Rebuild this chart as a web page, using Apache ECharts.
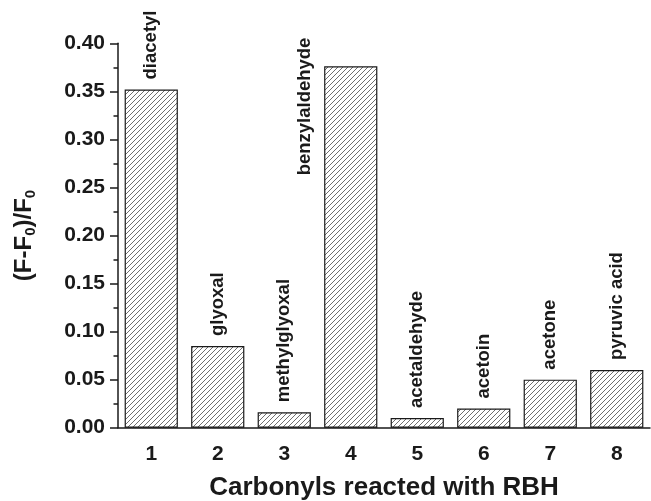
<!DOCTYPE html>
<html>
<head>
    <meta charset="utf-8">
    <title>Carbonyls reacted with RBH</title>
    <script src="https://cdn.jsdelivr.net/npm/echarts@6/dist/echarts.min.js"></script>
    <style>
        html, body { margin: 0; padding: 0; background: #fff; }
        #chart1 { width: 651px; height: 501px; }
    </style>
</head>
<body>
<div id="chart1"></div>
<script type="text/javascript">
    // data
    var categories = ['1', '2', '3', '4', '5', '6', '7', '8'];
    var compounds = ['diacetyl', 'glyoxal', 'methylglyoxal', 'benzylaldehyde',
        'acetaldehyde', 'acetoin', 'acetone', 'pyruvic acid'];
    var ratio = [0.352, 0.085, 0.016, 0.376, 0.010, 0.020, 0.050, 0.060];
    var yTicks = [0, 0.05, 0.10, 0.15, 0.20, 0.25, 0.30, 0.35, 0.40];

    var FONT = '"Liberation Sans", Arial, Helvetica, sans-serif';
    var INK = '#1a1a1a';

    // hatch fill ///
    function hatch() {
        var s = 5;
        var c = document.createElement('canvas');
        c.width = s; c.height = s;
        var g = c.getContext('2d');
        g.fillStyle = '#fff';
        g.fillRect(0, 0, s, s);
        g.strokeStyle = '#5e5e5e';
        g.lineWidth = 0.9;
        g.beginPath();
        g.moveTo(-1, s + 1); g.lineTo(s + 1, -1);
        g.moveTo(-1, 1); g.lineTo(1, -1);
        g.moveTo(s - 1, s + 1); g.lineTo(s + 1, s - 1);
        g.stroke();
        return c;
    }
    var pattern = { image: hatch(), repeat: 'repeat' };

    var barData = ratio.map(function (v, i) {
        var item = { value: v, label: { formatter: compounds[i] } };
        // benzylaldehyde sits beside its bar, not over it
        if (compounds[i] === 'benzylaldehyde') {
            item.label.position = [-19, 109];
        }
        return item;
    });

    var chart = echarts.init(document.getElementById('chart1'));
    chart.setOption({
        animation: false,
        grid: { left: 118, right: 1, top: 43.3, bottom: 73.3, outerBoundsMode: 'none' },
        xAxis: [{
            type: 'category',
            data: categories,
            name: 'Carbonyls reacted with RBH',
            nameLocation: 'middle',
            nameGap: 47,
            nameTextStyle: { fontFamily: FONT, fontWeight: 'bold', fontSize: 26, color: INK },
            axisLine: { lineStyle: { color: INK, width: 1.5 } },
            axisTick: { alignWithLabel: true, length: 7, lineStyle: { color: INK, width: 1.5 } },
            axisLabel: { margin: 16, fontFamily: FONT, fontWeight: 'bold', fontSize: 21, color: INK },
            splitLine: { show: false }
        }, {
            type: 'category',
            data: categories,
            position: 'bottom',
            axisLine: { show: false },
            axisTick: { length: 4, lineStyle: { color: INK, width: 1.5 } },
            axisLabel: { show: false },
            splitLine: { show: false }
        }],
        yAxis: {
            type: 'value',
            min: yTicks[0],
            max: yTicks[yTicks.length - 1],
            interval: 0.05,
            name: '{a|(F-F}{s|0}{a|)/F}{s|0}',
            nameLocation: 'middle',
            nameRotate: 90,
            nameGap: 80,
            nameTextStyle: {
                rich: {
                    a: { fontFamily: FONT, fontWeight: 'bold', fontSize: 24, color: INK },
                    s: { fontFamily: FONT, fontWeight: 'bold', fontSize: 15, color: INK, padding: [12, 0, 0, 0] }
                }
            },
            axisLine: { show: true, lineStyle: { color: INK, width: 1.5 } },
            axisTick: { show: true, length: 8, lineStyle: { color: INK, width: 1.5 } },
            minorTick: { show: true, splitNumber: 2, length: 4.5, lineStyle: { color: INK, width: 1.5 } },
            axisLabel: {
                margin: 13,
                fontFamily: FONT, fontWeight: 'bold', fontSize: 21, color: INK,
                formatter: function (v) { return v.toFixed(2); }
            },
            splitLine: { show: false }
        },
        series: [{
            type: 'bar',
            xAxisIndex: 0,
            data: barData,
            barCategoryGap: '20%',
            itemStyle: { color: pattern, borderColor: INK, borderWidth: 1.2 },
            label: {
                show: true,
                position: 'top',
                distance: 10,
                rotate: 90,
                align: 'left',
                verticalAlign: 'middle',
                fontFamily: FONT, fontWeight: 'bold', fontSize: 18.5, color: INK
            }
        }]
    });
</script>
</body>
</html>
